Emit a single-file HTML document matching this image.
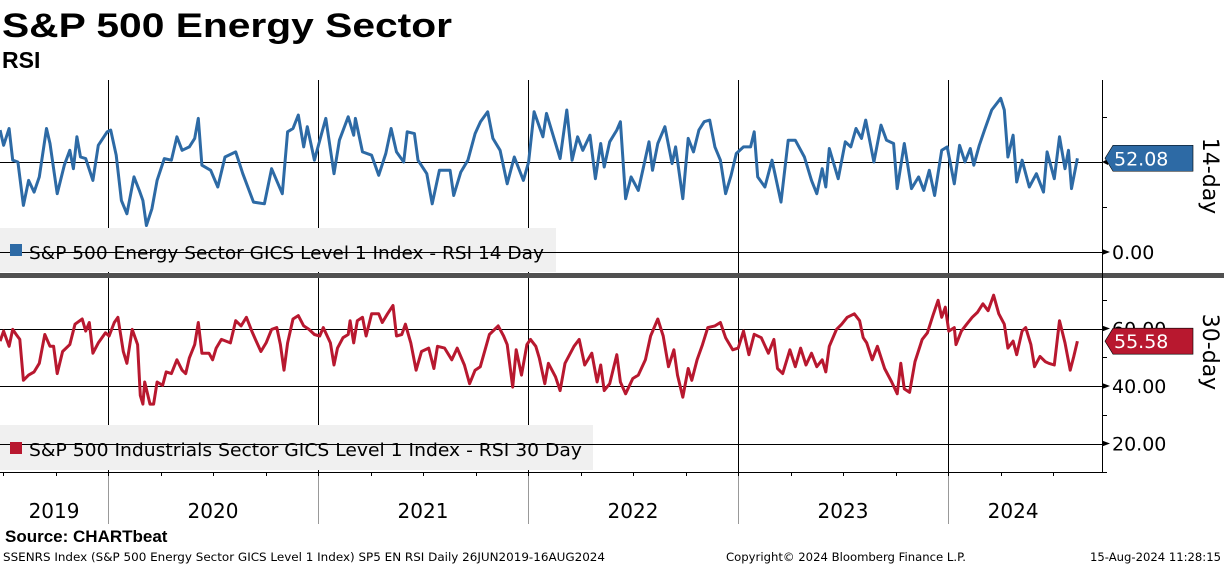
<!DOCTYPE html>
<html><head><meta charset="utf-8"><style>
html,body{margin:0;padding:0;background:#fff;width:1224px;height:566px;overflow:hidden}
svg{display:block;font-family:"DejaVu Sans","Liberation Sans",sans-serif}
</style></head><body>
<svg id="chart" width="1224" height="566" viewBox="0 0 1224 566" xmlns="http://www.w3.org/2000/svg">
<text x="2" y="37" font-size="34" font-weight="bold" font-family="Liberation Sans, sans-serif" textLength="450" lengthAdjust="spacingAndGlyphs">S&amp;P 500 Energy Sector</text>
<text x="2" y="68" font-size="23" font-weight="bold" font-family="Liberation Sans, sans-serif">RSI</text>
<g id="grid"></g>
<rect x="0" y="228" width="556" height="44" fill="#f0f0f0"/>
<rect x="0" y="425" width="593" height="45" fill="#f0f0f0"/>
<g id="gridover"></g>
<g id="series"></g>
<g>
<rect x="10" y="244" width="12" height="12" fill="#2d6aa5"/>
<text x="29" y="259" font-size="18" textLength="515" lengthAdjust="spacingAndGlyphs">S&amp;P 500 Energy Sector GICS Level 1 Index - RSI 14 Day</text>
</g>
<g>
<rect x="10" y="442" width="12" height="12" fill="#b8182f"/>
<text x="29" y="456" font-size="18" textLength="553" lengthAdjust="spacingAndGlyphs">S&amp;P 500 Industrials Sector GICS Level 1 Index - RSI 30 Day</text>
</g>
<rect x="0" y="273" width="1224" height="5" fill="#505050"/>
<g id="axes"></g>
<text x="5" y="542" font-size="17" font-weight="bold" font-family="Liberation Sans, sans-serif">Source: CHARTbeat</text>
<text x="3" y="561" font-size="11.5" textLength="602" lengthAdjust="spacingAndGlyphs">SSENRS Index (S&amp;P 500 Energy Sector GICS Level 1 Index) SP5 EN RSI  Daily 26JUN2019-16AUG2024</text>
<text x="726" y="561" font-size="11.5" textLength="240" lengthAdjust="spacingAndGlyphs">Copyright© 2024 Bloomberg Finance L.P.</text>
<text x="1090" y="561" font-size="11.5" textLength="131" lengthAdjust="spacingAndGlyphs">15-Aug-2024 11:28:15</text>
</svg>
<script>
const top_years=[2019.486,2019.503,2019.529,2019.546,2019.571,2019.597,2019.622,2019.648,2019.673,2019.707,2019.724,2019.758,2019.792,2019.818,2019.835,2019.852,2019.869,2019.894,2019.928,2019.954,2019.996,2020.013,2020.039,2020.064,2020.090,2020.124,2020.149,2020.166,2020.183,2020.209,2020.234,2020.268,2020.302,2020.328,2020.353,2020.387,2020.413,2020.430,2020.447,2020.489,2020.523,2020.557,2020.608,2020.642,2020.693,2020.745,2020.779,2020.830,2020.855,2020.881,2020.906,2020.932,2020.949,2020.983,2021.017,2021.037,2021.076,2021.102,2021.144,2021.170,2021.178,2021.212,2021.255,2021.289,2021.323,2021.348,2021.374,2021.408,2021.425,2021.459,2021.476,2021.518,2021.544,2021.578,2021.629,2021.646,2021.680,2021.714,2021.748,2021.774,2021.808,2021.833,2021.867,2021.901,2021.935,2021.978,2022.003,2022.029,2022.071,2022.088,2022.153,2022.185,2022.210,2022.236,2022.261,2022.295,2022.321,2022.346,2022.363,2022.389,2022.423,2022.440,2022.465,2022.491,2022.525,2022.550,2022.576,2022.593,2022.618,2022.652,2022.686,2022.703,2022.737,2022.763,2022.788,2022.814,2022.839,2022.865,2022.890,2022.916,2022.941,2022.967,2022.992,2023.026,2023.060,2023.077,2023.094,2023.128,2023.162,2023.205,2023.239,2023.273,2023.316,2023.350,2023.375,2023.401,2023.418,2023.435,2023.477,2023.511,2023.537,2023.562,2023.588,2023.608,2023.647,2023.681,2023.707,2023.741,2023.758,2023.792,2023.826,2023.860,2023.885,2023.911,2023.936,2023.970,2023.996,2024.030,2024.055,2024.081,2024.106,2024.123,2024.149,2024.174,2024.208,2024.251,2024.268,2024.285,2024.310,2024.327,2024.353,2024.387,2024.421,2024.455,2024.472,2024.506,2024.531,2024.557,2024.574,2024.588,2024.616];
const top_values=[67.7,59.3,68.6,51.0,50.0,25.9,39.8,33.3,41.7,68.6,60.3,32.4,48.2,56.5,46.3,64.0,52.8,51.9,39.8,59.3,66.8,67.7,53.8,28.6,21.2,41.7,34.2,28.6,14.7,24.0,39.8,51.9,51.0,64.0,56.5,58.4,63.1,74.2,48.2,45.4,36.1,52.8,55.6,43.5,27.7,26.8,46.3,32.4,66.8,68.6,76.1,58.4,69.6,51.0,65.8,74.2,43.5,62.1,75.1,64.9,74.2,55.6,53.8,42.6,54.7,68.6,55.6,50.0,66.8,65.8,51.0,43.5,26.8,45.4,45.4,31.4,44.4,51.0,65.8,72.4,77.9,63.1,56.5,37.9,52.8,39.8,50.0,77.9,64.0,77.0,51.9,78.9,51.0,64.0,56.5,64.9,40.7,60.3,47.2,61.2,67.7,72.4,29.6,41.7,34.2,47.2,61.2,45.4,60.3,69.6,49.1,58.4,29.6,63.1,55.6,67.7,72.4,73.3,58.4,51.0,32.4,42.6,54.7,58.4,58.4,66.8,41.7,36.1,51.0,27.7,62.1,62.1,52.8,39.8,32.4,46.3,36.1,57.5,40.7,61.2,58.4,68.6,63.1,73.3,50.0,70.5,62.1,60.3,35.2,60.3,35.2,41.7,34.2,45.4,31.4,56.5,58.4,37.9,59.3,50.0,57.5,48.2,59.3,67.7,78.9,85.4,78.9,52.8,64.9,38.9,51.0,36.1,43.5,33.3,55.6,40.7,64.0,46.3,56.5,35.2,52.08];
const bot_years=[2019.486,2019.503,2019.529,2019.546,2019.563,2019.580,2019.597,2019.622,2019.648,2019.673,2019.699,2019.724,2019.741,2019.758,2019.784,2019.818,2019.843,2019.877,2019.894,2019.911,2019.928,2019.954,2019.988,2020.005,2020.030,2020.047,2020.073,2020.090,2020.115,2020.141,2020.154,2020.166,2020.175,2020.200,2020.217,2020.234,2020.260,2020.277,2020.302,2020.328,2020.353,2020.370,2020.387,2020.413,2020.430,2020.447,2020.481,2020.498,2020.515,2020.540,2020.583,2020.608,2020.634,2020.659,2020.685,2020.702,2020.728,2020.753,2020.779,2020.804,2020.821,2020.838,2020.855,2020.881,2020.906,2020.932,2020.957,2020.983,2021.008,2021.025,2021.059,2021.076,2021.093,2021.119,2021.144,2021.153,2021.170,2021.187,2021.212,2021.229,2021.255,2021.289,2021.306,2021.331,2021.357,2021.374,2021.399,2021.416,2021.442,2021.467,2021.493,2021.527,2021.552,2021.569,2021.603,2021.637,2021.663,2021.697,2021.722,2021.748,2021.773,2021.816,2021.858,2021.884,2021.901,2021.927,2021.944,2021.969,2021.995,2022.012,2022.037,2022.054,2022.080,2022.097,2022.131,2022.153,2022.176,2022.219,2022.244,2022.270,2022.304,2022.329,2022.346,2022.363,2022.389,2022.423,2022.440,2022.465,2022.499,2022.525,2022.559,2022.584,2022.618,2022.644,2022.669,2022.695,2022.712,2022.737,2022.763,2022.780,2022.805,2022.831,2022.856,2022.890,2022.916,2022.941,2022.975,2023.001,2023.026,2023.052,2023.077,2023.111,2023.145,2023.171,2023.188,2023.213,2023.247,2023.273,2023.298,2023.324,2023.350,2023.375,2023.401,2023.418,2023.435,2023.469,2023.494,2023.520,2023.554,2023.579,2023.596,2023.613,2023.639,2023.664,2023.698,2023.732,2023.758,2023.775,2023.792,2023.817,2023.843,2023.877,2023.902,2023.928,2023.953,2023.970,2023.987,2024.004,2024.030,2024.038,2024.064,2024.089,2024.115,2024.140,2024.166,2024.191,2024.217,2024.242,2024.268,2024.285,2024.310,2024.327,2024.353,2024.370,2024.395,2024.412,2024.438,2024.463,2024.480,2024.506,2024.531,2024.557,2024.582,2024.599,2024.616];
const bot_values=[55.6,59.1,53.8,59.7,57.9,56.2,42.0,43.8,44.9,47.9,57.9,53.8,53.8,44.3,52.0,54.4,61.5,63.3,59.1,62.1,51.4,55.0,58.5,57.4,62.1,63.9,52.0,47.9,59.7,54.4,36.7,33.7,41.4,33.7,33.7,41.4,40.2,44.9,44.3,49.1,45.5,44.3,49.7,54.4,62.1,51.4,51.4,49.1,53.2,56.2,55.0,62.7,60.9,63.9,59.1,56.2,52.0,55.0,59.7,60.3,54.4,45.5,55.0,63.3,64.5,60.9,59.7,57.9,57.4,60.3,55.0,47.3,53.2,56.8,57.9,62.7,55.0,62.7,63.9,57.4,65.1,65.1,62.1,65.1,68.0,57.4,57.9,61.5,55.0,45.5,52.0,53.2,46.1,53.8,53.2,49.1,53.2,47.3,40.8,45.5,46.7,57.9,60.9,57.4,54.4,39.6,52.6,43.8,54.4,56.2,53.8,49.7,40.8,47.9,43.2,38.4,47.9,53.8,56.2,47.3,51.4,41.4,47.3,38.4,40.8,50.9,41.4,37.3,42.6,43.8,49.1,57.4,63.3,57.4,46.7,52.6,43.8,36.1,46.1,42.0,49.1,54.4,60.3,60.9,62.1,56.8,52.6,53.2,59.1,50.9,58.0,56.8,51.4,56.2,46.1,44.3,52.6,46.7,53.2,47.3,51.4,46.7,49.1,44.9,53.8,59.7,61.5,63.9,65.1,62.7,56.8,55.0,49.1,53.8,46.1,41.4,37.3,47.9,39.0,37.8,48.5,56.2,58.5,64.5,69.8,63.9,67.4,59.1,60.3,54.4,59.1,61.5,63.9,65.6,68.6,66.2,71.6,65.1,61.5,53.2,55.6,50.9,59.1,60.3,54.4,46.7,50.3,48.5,47.9,47.3,62.7,55.0,45.5,50.3,55.58];
const year_labels=["2019","2020","2021","2022","2023","2024"];
const year_starts=[2019.486,2020,2021,2022,2023,2024];
const top_ticks=[0,50];
const bot_ticks=[60,40,20];

const NS="http://www.w3.org/2000/svg";
const PLOT_R=1102, X_END=2024.62;
function xs(yr){return 108+(yr-2020)*210;}
function yTop(v){return 252-v*1.8;}
function yBot(v){return 386-(v-40)*2.875;}
function mk(parent,tag,attrs){const e=document.createElementNS(NS,tag);for(const k in attrs)e.setAttribute(k,attrs[k]);parent.appendChild(e);return e;}
const grid=document.getElementById('grid'),gover=document.getElementById('gridover'),series=document.getElementById('series'),axes=document.getElementById('axes');

// year dividers
for(let i=1;i<year_starts.length;i++){
  const x=Math.round(xs(year_starts[i]))+0.5;
  const l=mk(grid,'line',{x1:x,x2:x,y1:80,y2:472,stroke:'#000','stroke-width':1});
  
  
  const l2=mk(grid,'line',{x1:x,x2:x,y1:472,y2:524,stroke:'#999','stroke-width':1});
  
  
}
// horizontal gridlines (drawn over legend boxes)
top_ticks.forEach(v=>{
  const y=Math.round(yTop(v))+0.5;
  const g=mk(gover,'line',{x1:0,x2:PLOT_R,y1:y,y2:y,stroke:'#000','stroke-width':1});
  
  
});
bot_ticks.forEach(v=>{
  const y=Math.round(yBot(v))+0.5;
  const g=mk(gover,'line',{x1:0,x2:PLOT_R,y1:y,y2:y,stroke:'#000','stroke-width':1});
  
  
});
// series
function path(years,vals,yf){return years.map((t,i)=>(i?'L':'M')+xs(t).toFixed(1)+' '+yf(vals[i]).toFixed(1)).join(' ');}
const p1=mk(series,'path',{d:path(top_years,top_values,yTop),fill:'none',stroke:'#2d6aa5','stroke-width':3,'stroke-linejoin':'round'});


const p2=mk(series,'path',{d:path(bot_years,bot_values,yBot),fill:'none',stroke:'#b8182f','stroke-width':3,'stroke-linejoin':'round'});



// right axis
mk(axes,'line',{x1:PLOT_R+0.5,x2:PLOT_R+0.5,y1:80,y2:472,stroke:'#000','stroke-width':1});
mk(axes,'line',{x1:0,x2:PLOT_R,y1:472.5,y2:472.5,stroke:'#000','stroke-width':1});
[25,75].forEach(v=>{const y=Math.round(yTop(v))+0.5;mk(axes,'line',{x1:PLOT_R,x2:PLOT_R+5,y1:y,y2:y,stroke:'#000'});});
[70,50,30,10].forEach(v=>{const y=Math.round(yBot(v))+0.5;mk(axes,'line',{x1:PLOT_R,x2:PLOT_R+5,y1:y,y2:y,stroke:'#000'});});
function tickLabel(y,txt,name){
  mk(axes,'path',{d:`M${PLOT_R} ${y-3}L${PLOT_R+8} ${y}L${PLOT_R} ${y+3}Z`,fill:'#000'});
  const t=mk(axes,'text',{x:PLOT_R+10,y:y+7,'font-size':19});
  t.textContent=txt;
  
  
}
top_ticks.filter(v=>v===0).forEach(v=>tickLabel(yTop(v),v.toFixed(2),'top-y-tick-label'));
bot_ticks.forEach(v=>tickLabel(yBot(v),v.toFixed(2),'bottom-y-tick-label'));
mk(axes,'path',{d:`M${PLOT_R} ${yTop(50)}L${PLOT_R+6} ${yTop(50)-3}L${PLOT_R+6} ${yTop(50)+3}Z`,fill:'#000'});

// value tags
function tag(v,yf,color,name){
  const y=yf(v);
  const g=mk(axes,'g',{});
  
  
  mk(g,'path',{d:`M${PLOT_R+3} ${y}L${PLOT_R+11} ${y-13}L1193 ${y-13}L1193 ${y+13}L${PLOT_R+11} ${y+13}Z`,fill:color,stroke:'#000','stroke-width':0.6});
  const t=mk(g,'text',{x:PLOT_R+12,y:y+7,'font-size':19,fill:'#fff'});
  t.textContent=v.toFixed(2);
}
tag(top_values[top_values.length-1],yTop,'#2d6aa5','rsi-14-last-value');
tag(bot_values[bot_values.length-1],yBot,'#b8182f','rsi-30-last-value');

// rotated panel titles
function rot(txt,cy,name){
  const t=mk(axes,'text',{x:0,y:0,'font-size':22,'text-anchor':'middle',transform:`translate(1203 ${cy}) rotate(90)`});
  t.textContent=txt;
  
  
}
rot('14-day',176,'top-panel-title');
rot('30-day',352,'bottom-panel-title');

// x axis minor ticks (quarterly) and year labels
for(let q=2019.5;q<=2024.5;q+=0.25){const x=Math.round(xs(q))+0.5;if(x>0&&x<PLOT_R)mk(axes,'line',{x1:x,x2:x,y1:472,y2:476,stroke:'#000'});}
year_labels.forEach((lab,i)=>{
  const s=year_starts[i], e=i+1<year_starts.length?year_starts[i+1]:X_END;
  const t=mk(axes,'text',{x:(xs(s)+xs(e))/2,y:518,'font-size':20,'text-anchor':'middle'});
  t.textContent=lab;
  
  
});
</script>
</body></html>
